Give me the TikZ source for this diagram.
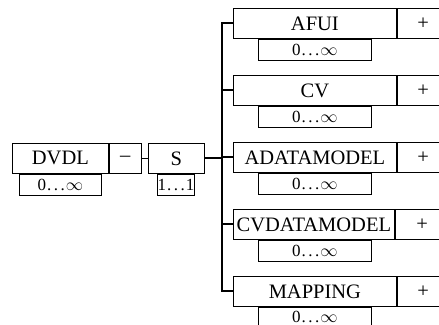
\documentclass[tikz,border=0pt]{standalone}
\usepackage{fontspec}
\setmainfont{Liberation Serif}
\usetikzlibrary{positioning}

\newcommand{\dotsto}{\kern1pt.\kern2.5pt.\kern2.5pt.\kern1pt}
\newcommand{\manycard}{0\dotsto$\infty$}

\tikzset{
  namebox/.style={draw, line width=0.8pt, minimum height=30pt, inner sep=0pt, anchor=north west,
    font=\fontsize{20.5}{21}\selectfont},
  signbox/.style={draw, line width=0.8pt, minimum height=30pt, inner sep=0pt, anchor=west,
    font=\fontsize{20.5}{21}\selectfont},
  cardbox/.style={draw, line width=0.8pt, minimum height=21pt, inner sep=0pt, anchor=north west,
    font=\fontsize{17}{18}\selectfont},
  tree/.style={line width=2pt}
}

\begin{document}
\begin{tikzpicture}[x=1pt, y=-1pt]
            \useasboundingbox (0,0) rectangle (439,324);
            \clip (0,0) rectangle (439,324);

            % left part
            \node[namebox, minimum width=96pt] (dvdl) at (12,143) {DVDL};
            \node[signbox, minimum width=32pt] (dvdlsign) at (dvdl.east) {--};
            \node[cardbox, minimum width=82pt, xshift=7pt] (dvdlcard) at (dvdl.south west) {\manycard};

            \node[namebox, minimum width=56pt] (s) at (148,143) {S};
            \node[cardbox, minimum width=37pt, xshift=9pt] (scard) at (s.south west) {1\dotsto1};

            % children
            \node[namebox, minimum width=163pt] (afui) at (233,8) {AFUI};
            \node[signbox, minimum width=52pt] (afuisign) at (afui.east) {+};
            \node[cardbox, minimum width=113pt, xshift=25pt] (afuicard) at (afui.south west) {\manycard};

            \node[namebox, minimum width=163pt] (cv) at (233,75) {CV};
            \node[signbox, minimum width=52pt] (cvsign) at (cv.east) {+};
            \node[cardbox, minimum width=113pt, xshift=25pt] (cvcard) at (cv.south west) {\manycard};

            \node[namebox, minimum width=163pt] (adm) at (233,142) {ADATAMODEL};
            \node[signbox, minimum width=52pt] (admsign) at (adm.east) {+};
            \node[cardbox, minimum width=113pt, xshift=25pt] (admcard) at (adm.south west) {\manycard};

            \node[namebox, minimum width=161pt] (cvdm) at (233,209) {CVDATAMODEL};
            \node[signbox, minimum width=54pt] (cvdmsign) at (cvdm.east) {+};
            \node[cardbox, minimum width=113pt, xshift=25pt] (cvdmcard) at (cvdm.south west) {\manycard};

            \node[namebox, minimum width=163pt] (map) at (233,276) {MAPPING};
            \node[signbox, minimum width=52pt] (mapsign) at (map.east) {+};
            \node[cardbox, minimum width=113pt, xshift=25pt] (mapcard) at (map.south west) {\raisebox{2pt}{\manycard}};

            % connectors
            \draw[line width=0.8pt] (dvdlsign) -- (s);
            \draw[tree] (s.east) -- ++(18,0);
            \draw[tree] (afui.west) -- ++(-11,0) |- (map.west);
            \draw[tree] (cv.west) -- ++(-11,0);
            \draw[tree] (adm.west) -- ++(-11,0);
            \draw[tree] (cvdm.west) -- ++(-11,0);
        \end{tikzpicture}
\end{document}
